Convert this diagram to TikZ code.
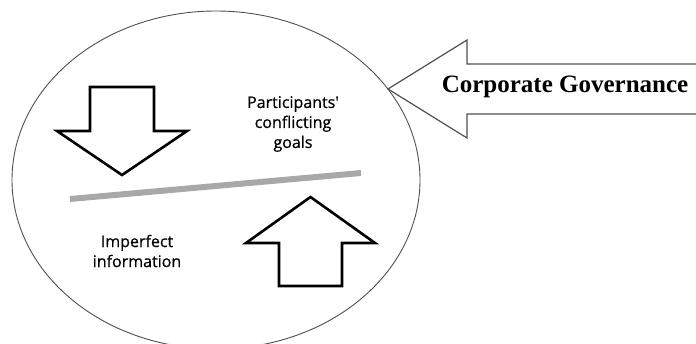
\documentclass[tikz,border=0pt]{standalone}
\usepackage{fontspec}
\setmainfont{Liberation Serif}
\newfontfamily\insidefont[FakeBold=0.6]{Open Sans}
\usetikzlibrary{shapes.geometric}
\definecolor{bargray}{RGB}{168,168,168}
\definecolor{outline}{RGB}{80,80,80}
\tikzset{
  oval/.style={ellipse, draw=outline, line width=0.9pt, inner sep=0pt, minimum width=408pt, minimum height=338pt},
  blockarrow/.style={draw=black, line width=2.6pt, line join=miter, fill=white},
  bigarrow/.style={draw=outline, line width=1.2pt, line join=miter, fill=white},
  inlabel/.style={font={\insidefont\fontsize{16}{20}\selectfont}, align=center, inner sep=0pt, text=black},
  cglabel/.style={font={\fontsize{25}{30}\selectfont\bfseries}, inner sep=0pt, anchor=base}
}
\begin{document}
\begin{tikzpicture}[x=1pt,y=-1pt]
\useasboundingbox (0,0) rectangle (696,343);
\clip (0,0) rectangle (696,343);
% ellipse
\node[oval] (circ) at (216,180) {};
% big arrow
\coordinate (cgtip) at (388,89);
\draw[bigarrow] (700,64) -- (467,64) -- (467,40) -- (cgtip) -- (467,138) -- (467,114) -- (700,114);
\node[cglabel] (cg) at (565,92) {Corporate Governance};
% down arrow
\draw[blockarrow] (90,87) -- (154,87) -- (154,131) -- (187,131) -- (122,175) -- (57,131) -- (90,131) -- cycle;
% up arrow
\draw[blockarrow] (279,286) -- (342,286) -- (342,243) -- (375,243) -- (310.5,197) -- (246,243) -- (279,243) -- cycle;
% gray bar
\coordinate (barL) at (70,199);
\coordinate (barR) at (361,173);
\draw[bargray, line width=6pt] (barL) -- (barR);
% labels
\node[inlabel] (goals) at (293,124) {Participants'\\conflicting\\goals};
\node[inlabel] (info) at (137,251) {Imperfect\\information};
\end{tikzpicture}
\end{document}
